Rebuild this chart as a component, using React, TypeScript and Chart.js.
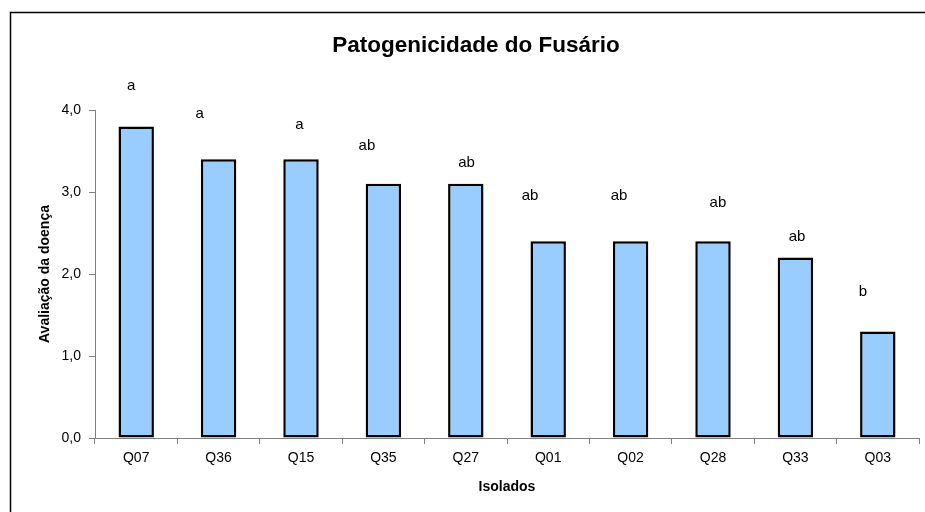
import React, { useEffect, useRef } from "react";
import { Chart, registerables } from "chart.js";

Chart.register(...registerables);

const categories = ["Q07", "Q36", "Q15", "Q35", "Q27", "Q01", "Q02", "Q28", "Q33", "Q03"];
const diseaseScores = [3.8, 3.4, 3.4, 3.1, 3.1, 2.4, 2.4, 2.4, 2.2, 1.3];
const groupLetters = ["a", "a", "a", "ab", "ab", "ab", "ab", "ab", "ab", "b"];
// letter placement (value units on y; fraction of a category on x), as in the original chart's text boxes
const letterLevels = [4.3, 3.95, 3.82, 3.56, 3.35, 2.95, 2.95, 2.87, 2.45, 1.78];
const letterShifts = [-0.06, -0.23, -0.02, -0.2, 0.01, -0.22, -0.14, 0.06, 0.02, -0.18];
const yTicks = [0, 1, 2, 3, 4];

const chartTitle = "Patogenicidade do Fusário";
const xTitle = "Isolados";
const yTitle = "Avaliação da doença";

const FONT = "'Liberation Sans', Arial, Helvetica, sans-serif";

const overlayPlugin = {
  id: "overlay",
  afterDraw(chart: any) {
    const ctx = chart.ctx;
    const xs = chart.scales.x;
    const ys = chart.scales.y;
    ctx.save();
    // outer frame (left and top edges visible)
    ctx.strokeStyle = "#000";
    ctx.lineWidth = 1.5;
    ctx.beginPath();
    ctx.moveTo(10.5, 520);
    ctx.lineTo(10.5, 12.5);
    ctx.lineTo(930, 12.5);
    ctx.stroke();
    // title
    ctx.fillStyle = "#000";
    ctx.font = `bold 22.5px ${FONT}`;
    ctx.textAlign = "center";
    ctx.textBaseline = "alphabetic";
    ctx.fillText(chartTitle, 476, 52);
    // letters
    ctx.font = `15px ${FONT}`;
    ctx.textBaseline = "middle";
    const step = xs.getPixelForValue(1) - xs.getPixelForValue(0);
    groupLetters.forEach((l, i) => {
      const x = xs.getPixelForValue(i) + letterShifts[i] * step;
      const y = ys.getPixelForValue(letterLevels[i]);
      ctx.fillText(l, x, y);
    });
    ctx.restore();
  },
};

export default function App() {
  const ref = useRef<HTMLCanvasElement | null>(null);
  useEffect(() => {
    if (!ref.current) return;
    const chart = new Chart(ref.current, {
      type: "bar",
      data: {
        labels: categories,
        datasets: [
          {
            data: diseaseScores,
            backgroundColor: "#99CCFF",
            borderColor: "#000000",
            borderWidth: 2.5,
            borderSkipped: false,
            barPercentage: 0.43,
            categoryPercentage: 1,
          },
        ],
      },
      options: {
        animation: false,
        responsive: false,
        maintainAspectRatio: false,
        layout: { padding: { top: 110, right: 6, left: 0, bottom: 0 } },
        plugins: {
          legend: { display: false },
          title: { display: false },
          tooltip: { enabled: false },
        },
        scales: {
          x: {
            afterFit: (s: any) => {
              s.height = 74;
            },
            grid: {
              display: true,
              drawOnChartArea: false,
              drawTicks: true,
              tickLength: 6,
              color: "#808080",
              offset: true,
            },
            border: { display: true, color: "#808080", width: 1 },
            ticks: {
              color: "#000",
              font: { family: FONT, size: 14 },
              padding: 6,
              maxRotation: 0,
            },
            title: {
              display: true,
              text: xTitle,
              color: "#000",
              font: { family: FONT, size: 14, weight: "bold" },
              padding: { top: 0, bottom: 16.6 },
            },
          },
          y: {
            min: 0,
            max: 4,
            afterFit: (s: any) => {
              s.width = 95;
            },
            afterBuildTicks: (s: any) => {
              s.ticks = yTicks.map((v) => ({ value: v }));
            },
            grid: {
              display: true,
              drawOnChartArea: false,
              drawTicks: true,
              tickLength: 6,
              color: "#808080",
            },
            border: { display: true, color: "#808080", width: 1 },
            ticks: {
              color: "#000",
              font: { family: FONT, size: 14 },
              padding: 8,
              callback: (v: any) => Number(v).toFixed(1).replace(".", ","),
            },
            title: {
              display: true,
              text: yTitle,
              color: "#000",
              font: { family: FONT, size: 14, weight: "bold" },
              padding: { top: 36.6, bottom: 0 },
            },
          },
        },
      },
      plugins: [overlayPlugin],
    } as any);
    return () => chart.destroy();
  }, []);
  return (
    <div style={{ position: "absolute", left: 0, top: 0, width: 925, height: 512, background: "#fff" }}>
      <canvas ref={ref} width={925} height={512} style={{ width: 925, height: 512, display: "block" }} />
    </div>
  );
}
